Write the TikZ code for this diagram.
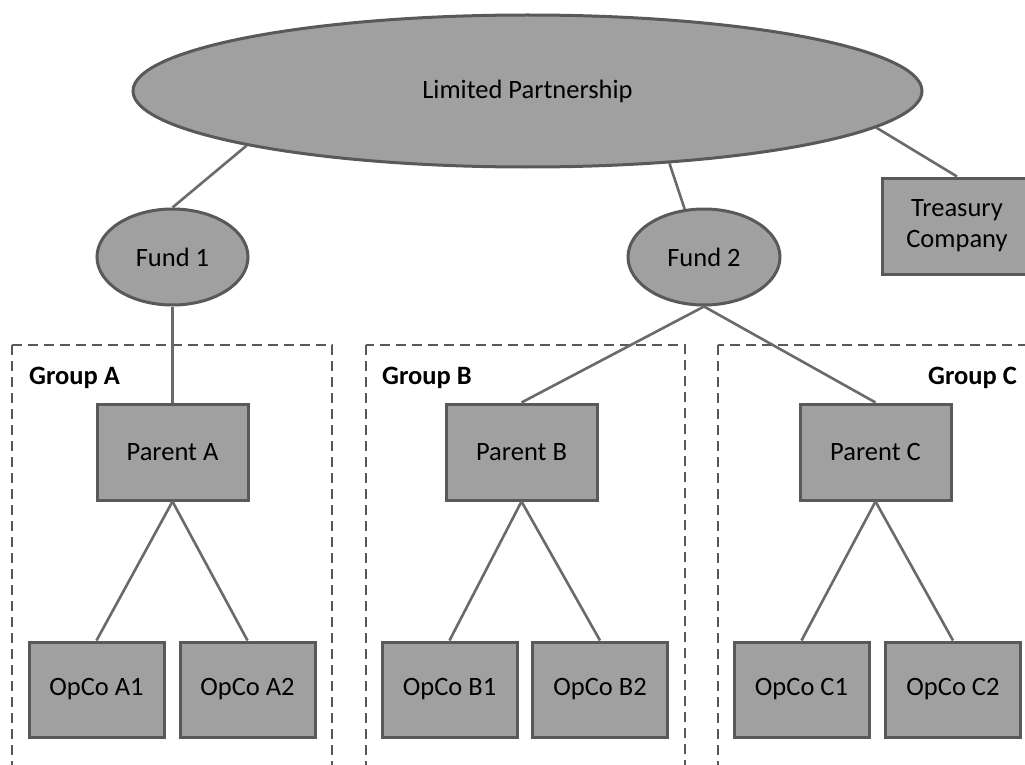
\documentclass[tikz,border=0pt]{standalone}
\usepackage{fontspec}
\setmainfont{Carlito}
\usetikzlibrary{shapes.geometric}
\definecolor{boxfill}{HTML}{A0A0A0}
\definecolor{boxline}{HTML}{595959}
\definecolor{conn}{HTML}{6A6A6A}
\begin{document}
\begin{tikzpicture}[x=1pt,y=-1pt,
  every node/.style={font=\fontsize{26.5}{31}\selectfont},
  oval/.style={ellipse,draw=boxline,fill=boxfill,line width=3pt,inner sep=0pt},
  entity/.style={rectangle,draw=boxline,fill=boxfill,line width=3pt,inner sep=0pt,minimum width=135pt,minimum height=95pt,align=center},
  parentbox/.style={entity,minimum width=151pt,minimum height=96pt},
  link/.style={draw=conn,line width=2.6pt},
  groupframe/.style={draw=boxline,line width=2.4pt,dash pattern=on 10pt off 6pt},
  grouplabel/.style={font=\fontsize{26.5}{31}\selectfont\bfseries,inner sep=0pt}]
\clip (0,0) rectangle (1025,765);
\fill[white] (0,0) rectangle (1025,765);
% group frames
\draw[groupframe] (12,345) rectangle (332,790);
\draw[groupframe] (366,345) rectangle (685,790);
\draw[groupframe] (718,345) rectangle (1060,790);
\node[grouplabel,anchor=base west] (gA) at (29,384) {Group A};
\node[grouplabel,anchor=base west] (gB) at (382,384) {Group B};
\node[grouplabel,anchor=base east] (gC) at (1017,384) {Group C};
% top level
\node[oval,minimum width=789pt,minimum height=152pt] (LP) at (527.5,91) {Limited Partnership};
\node[oval,minimum width=151pt,minimum height=96pt] (F1) at (172.5,257) {Fund 1};
\node[oval,minimum width=152pt,minimum height=96pt] (F2) at (704,257) {Fund 2};
\node[entity,minimum width=150pt,minimum height=96pt] (TC) at (957,226) {Treasury\\Company};
% parents
\node[parentbox] (PA) at (172.5,452) {Parent A};
\node[parentbox] (PB) at (521.5,452) {Parent B};
\node[parentbox] (PC) at (875.5,452) {Parent C};
% opcos
\node[entity] (A1) at (96.5,689.5) {OpCo A1};
\node[entity] (A2) at (247.5,689.5) {OpCo A2};
\node[entity] (B1) at (449.5,689.5) {OpCo B1};
\node[entity] (B2) at (600,689.5) {OpCo B2};
\node[entity] (C1) at (801.5,689.5) {OpCo C1};
\node[entity] (C2) at (953,689.5) {OpCo C2};
% connectors
\draw[link] (LP.191) -- (F1.north);
\draw[link] (LP.333) -- (F2.112);
\draw[link] (LP.354.6) -- (TC.north);
\draw[link] (F1.south) -- (PA.north);
\draw[link] (F2.south) -- (PB.north);
\draw[link] (F2.south) -- (PC.north);
\draw[link] (PA.south) -- (A1.north);
\draw[link] (PA.south) -- (A2.north);
\draw[link] (PB.south) -- (B1.north);
\draw[link] (PB.south) -- (B2.north);
\draw[link] (PC.south) -- (C1.north);
\draw[link] (PC.south) -- (C2.north);
\end{tikzpicture}
\end{document}
